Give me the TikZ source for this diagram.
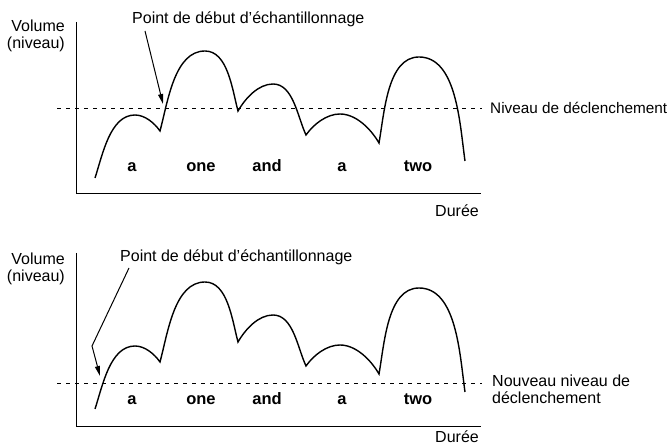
\documentclass[tikz,border=0pt]{standalone}
\usepackage{fontspec}
\setmainfont{Liberation Sans}
\usepackage{tikz}
\usetikzlibrary{arrows.meta}
\newcommand{\levelcurve}{(95,268) to[out=72,in=180] (135,331) to[out=0,in=125] (160,315)
  to[out=75,in=180] (205,395) to[out=0,in=105] (238,335)
  to[out=60,in=180] (273,362) to[out=0,in=115] (306,311)
  to[out=55,in=180] (340,332) to[out=0,in=120] (379,303)
  to[out=80,in=180] (419,389) to[out=0,in=98] (465,285)}
\tikzset{
  lbl/.style={font=\fontsize{16}{17}\selectfont, inner sep=0pt},
  syl/.style={font=\fontsize{16.5}{18}\selectfont\bfseries, inner sep=0pt, anchor=base},
  curve/.style={line width=1.4pt, looseness=0.85},
  axis/.style={line width=0.9pt},
  trig/.style={line width=0.7pt, dash pattern=on 4pt off 5pt},
  pointer/.style={line width=1pt, -{Triangle[length=10pt,width=5pt]}}
}

\begin{document}
\begin{tikzpicture}[x=1pt,y=1pt]
  \useasboundingbox (0,0) rectangle (672,446);
  % upper panel
  \draw[axis] (76,424) -- (76,253) -- (481,253);
  \draw[trig] (57,338) -- (482,338);
  \draw[curve] \levelcurve;
  \node (vol1) [lbl, anchor=north east, align=right] at (65,426) {Volume\\(niveau)};
  \node (dur1) [lbl, anchor=base east] at (479,229) {Durée};
  \node (trig1) [lbl, font=\fontsize{15.3}{17}\selectfont, anchor=west] at (490,338) {Niveau de déclenchement};
  \node (start1) [lbl, anchor=base west] at (132,422) {Point de début d’échantillonnage};
  \coordinate (tail1) at (145,415);
  \coordinate (hit1) at (163,342);
  \draw[pointer] (tail1) -- (hit1);
  \node (s1a) [syl] at (132,274) {a};
  \node (s1b) [syl] at (201,274) {one};
  \node (s1c) [syl] at (267,274) {and};
  \node (s1d) [syl] at (342,274) {a};
  \node (s1e) [syl] at (418,274) {two};
  % lower panel
  \draw[axis] (76,193) -- (76,20) -- (481,20);
  \draw[trig] (57,63) -- (482,63);
  \begin{scope}[yshift=-231pt]
    \draw[curve] \levelcurve;
  \end{scope}
  \node (vol2) [lbl, anchor=north east, align=right] at (65,193) {Volume\\(niveau)};
  \node (dur2) [lbl, anchor=base east] at (479,3) {Durée};
  \node (trig2) [lbl, anchor=north west, align=left] at (492,71)
    {Nouveau niveau de\\déclenchement};
  \node (start2) [lbl, anchor=base west] at (120,184) {Point de début d’échantillonnage};
  \coordinate (tail2) at (129,178);
  \coordinate (bend2) at (92,100);
  \coordinate (hit2) at (100,70);
  \draw[pointer] (tail2) -- (bend2) -- (hit2);
  \node (s2a) [syl] at (132,41) {a};
  \node (s2b) [syl] at (201,41) {one};
  \node (s2c) [syl] at (267,41) {and};
  \node (s2d) [syl] at (342,41) {a};
  \node (s2e) [syl] at (418,41) {two};
\end{tikzpicture}
\end{document}
